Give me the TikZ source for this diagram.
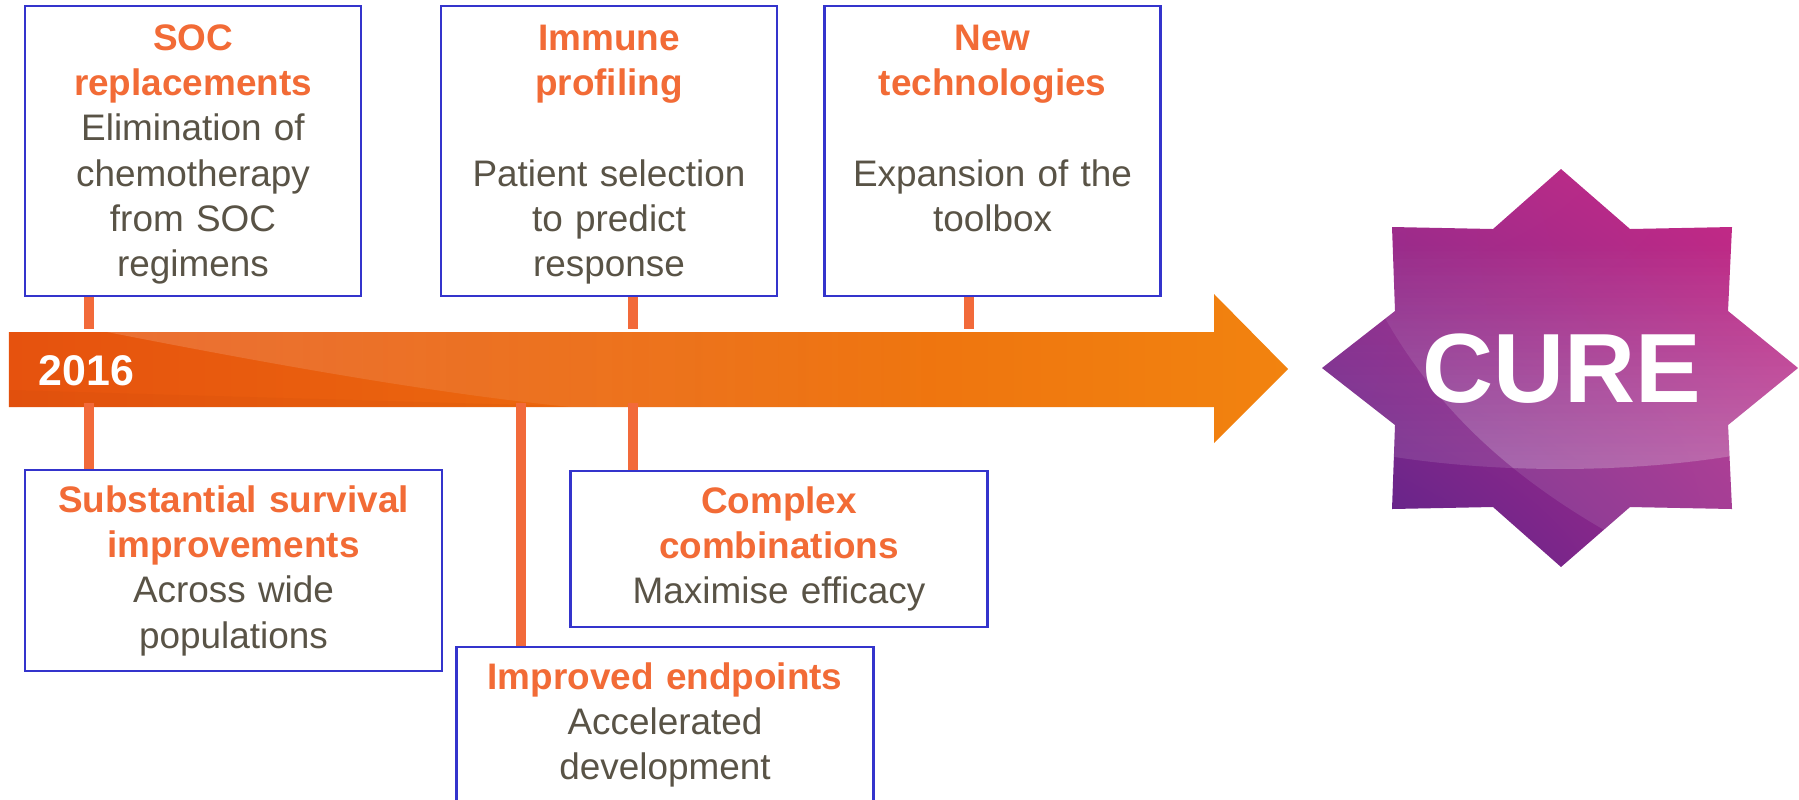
\documentclass[tikz,border=0pt]{standalone}
\usepackage{fontspec}
\setmainfont{Liberation Sans}
\usetikzlibrary{fadings,shadings}

\definecolor{boxblue}{HTML}{3434CC}
\definecolor{headorange}{HTML}{F26B36}
\definecolor{bodygrey}{HTML}{595346}
\definecolor{stuborange}{HTML}{F26A3A}
\definecolor{bandleft}{HTML}{E6520E}
\definecolor{bandright}{HTML}{F2830F}
\definecolor{starpink}{HTML}{CE2884}
\definecolor{starplum}{HTML}{A22E8C}
\definecolor{starviolet}{HTML}{52228A}
\definecolor{starmauve}{HTML}{A02A8A}

\newcommand{\hd}[1]{{\bfseries\color{headorange}#1}}

\tikzset{
  box/.style={draw=boxblue, line width=0.6pt, fill=white, align=center,
    inner sep=0pt, text=bodygrey, font=\fontsize{10.5}{12.9}\selectfont},
  topbox/.style={box, minimum width=3.36cm, minimum height=2.90cm,
    text width=3.3cm, text height=0.30cm, text depth=2.32cm},
  lowbox/.style={box, minimum width=4.17cm, text width=4.1cm},
  stub/.style={stuborange, line width=3.1pt},
}

\begin{document}
\begin{tikzpicture}
\useasboundingbox (0,0) rectangle (17.99,-7.99);

% timeline arrow
\shade[left color=bandleft, right color=bandright]
    (0.09,-3.32) -- (12.14,-3.32) -- (12.14,-2.94) -- (12.88,-3.69)
    -- (12.14,-4.43) -- (12.14,-4.07) -- (0.09,-4.07) -- cycle;
\fill[white, opacity=.16, path fading=east]
    (1.07,-3.32) .. controls (3,-3.7) and (4.5,-3.95) .. (5.71,-4.07)
    -- (9.5,-4.07) -- (9.5,-3.32) -- cycle;
\fill[bandleft!80!black, opacity=.1]
    (0.09,-3.90) -- (5.6,-4.06) -- (0.09,-4.07) -- cycle;
\node[font=\fontsize{12.2}{14}\selectfont\bfseries, text=white, inner sep=0pt,
    anchor=west] (yr) at (0.38,-3.705) {2016};

\coordinate (t1) at (0.89,-3.29);
\coordinate (t2) at (6.33,-3.29);
\coordinate (t3) at (9.69,-3.29);
\coordinate (u1) at (0.89,-4.03);
\coordinate (u2) at (5.21,-4.03);
\coordinate (u3) at (6.33,-4.03);

% boxes above
\node[topbox] (b1) at (1.93,-1.51)
    {\hd{SOC}\\\hd{replacements}\\Elimination of\\chemotherapy\\from SOC\\regimens};
\node[topbox] (b2) at (6.09,-1.51)
    {\hd{Immune}\\\hd{profiling}\\[12.9pt]Patient selection\\to predict\\response};
\node[topbox] (b3) at (9.925,-1.51)
    {\hd{New}\\\hd{technologies}\\[12.9pt]Expansion of the\\toolbox};

% boxes below
\node[lowbox, minimum height=2.01cm] (b4) at (2.335,-5.705)
    {\hd{Substantial survival}\\\hd{improvements}\\Across wide\\populations};
\node[lowbox, minimum height=1.56cm] (b5) at (6.65,-7.25)
    {\hd{Improved endpoints}\\Accelerated\\development};
\node[lowbox, minimum height=1.56cm] (b6) at (7.79,-5.49)
    {\hd{Complex}\\\hd{combinations}\\Maximise efficacy};

\draw[stub] (b1.south -| t1) -- (t1);
\draw[stub] (b2.south -| t2) -- (t2);
\draw[stub] (b3.south -| t3) -- (t3);
\draw[stub] (u1) -- (b4.north -| u1);
\draw[stub] (u2) -- (b5.north -| u2);
\draw[stub] (u3) -- (b6.north -| u3);

% cure badge
\def\starpath{(15.61,-1.69) -- (16.30,-2.29) -- (17.32,-2.27) -- (17.28,-3.11)
    -- (17.98,-3.68) -- (17.28,-4.25) -- (17.32,-5.09) -- (16.30,-5.07)
    -- (15.61,-5.67) -- (14.93,-5.07) -- (13.92,-5.09) -- (13.95,-4.25)
    -- (13.22,-3.68) -- (13.95,-3.11) -- (13.92,-2.27) -- (14.93,-2.29) -- cycle}
\def\glosspath{(13.2,-4.42) .. controls (14.6,-4.78) and (16.6,-4.78) .. (18,-4.42)
    -- (18,-2.4) -- (13.2,-2.4) -- cycle}
\shade[upper left=starplum, upper right=starpink, lower left=starviolet,
    lower right=starmauve] \starpath;
\begin{scope}
\clip \starpath;
\fill[white, opacity=.12, path fading=north] \glosspath;
\clip (13.7,-2.9) .. controls (14.3,-4.1) and (15.2,-4.9) .. (16.6,-5.6)
    -- (18.2,-5.8) -- (18.2,-1.5) -- (13.5,-1.5) -- cycle;
\fill[white, opacity=.22, path fading=north] \glosspath;
\fill[white, opacity=.1] (13.2,-4.42) .. controls (14.6,-4.78) and (16.6,-4.78)
    .. (18,-4.42) -- (18,-5.8) -- (13.2,-5.8) -- cycle;
\end{scope}
\node[font=\fontsize{28}{30}\selectfont\bfseries, text=white, inner sep=0pt]
    (cure) at (15.62,-3.69) {CURE};
\end{tikzpicture}
\end{document}
